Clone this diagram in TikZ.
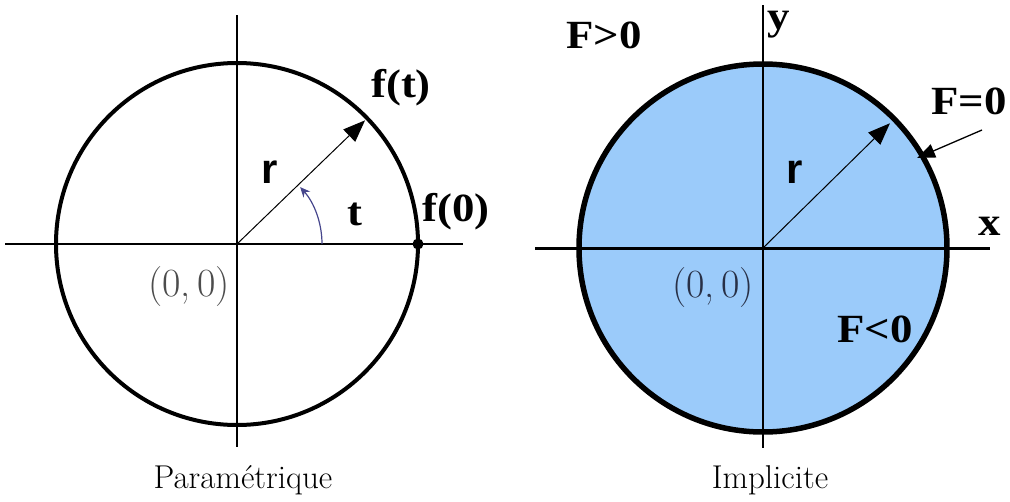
\documentclass[tikz,border=0pt]{standalone}
\usepackage{fontspec}
\usepackage{xcolor}
\usepackage{tikz}
\usetikzlibrary{arrows.meta,positioning}
\newfontfamily\lserif[FakeStretch=1.12]{Liberation Serif}
\newfontfamily\lsans{Liberation Sans}
\definecolor{diskblue}{RGB}{155,203,250}
\definecolor{anglecol}{RGB}{70,70,140}
\definecolor{origdark}{RGB}{40,48,70}

\begin{document}
\begin{tikzpicture}[x=1pt,y=-1pt,
  axis/.style={line width=1.3pt},
  rim/.style={line width=4pt},
  vec/.style={line width=1pt,-{Triangle[length=22pt,width=17pt]}},
  pointer/.style={line width=1.3pt,-{Triangle[length=18pt,width=14pt]}},
  anglearc/.style={line width=1.2pt,draw=anglecol,-{Stealth[length=10pt,width=9pt]}},
  lbl/.style={font=\fontsize{40}{42}\lserif\bfseries,inner sep=0pt},
  rlbl/.style={font=\fontsize{42}{44}\lsans\bfseries,inner sep=0pt},
  orig/.style={font=\fontsize{40}{44}\selectfont,text=black!70,inner sep=0pt},
  caption/.style={font=\fontsize{33}{36}\selectfont,inner sep=0pt}
]
\useasboundingbox (0,0) rectangle (1010,501);

% parametric circle
\coordinate (O1) at (237,244);
\coordinate (ax1l) at (5,244);
\coordinate (ax1r) at (463,244);
\coordinate (ax1t) at (237,15);
\coordinate (ax1b) at (237,447);
\draw[axis] (ax1l) -- (ax1r);
\draw[axis] (ax1t) -- (ax1b);
\draw[rim] (O1) circle[radius=181pt];
\coordinate (ft) at ([shift={(44:178pt)}]O1);
\draw[vec] (O1) -- (ft);
\draw[anglearc] ([shift={(0:85pt)}]O1) arc[start angle=0,end angle=42,radius=85pt];
\fill (418,244) circle[radius=5.5pt];
\node[lbl] (ftlabel) at (401,88) {f(t)};
\node[lbl] (f0label) at (456,212) {f(0)};
\node[rlbl] (r1) at (270,172) {r};
\node[lbl] (tlabel) at (355,214) {t};
\node[orig] (orig1) at (189,287) {(0,\,0)};
\node[caption] (cap1) at (243,480) {Paramétrique};

% implicit disk
\coordinate (O2) at (763,248);
\coordinate (ax2l) at (535,248);
\coordinate (ax2r) at (990,248);
\coordinate (ax2t) at (763,5);
\coordinate (ax2b) at (763,448);
\fill[diskblue] (O2) circle[radius=184pt];
\draw[line width=3pt] (ax2l) -- (ax2r);
\draw[axis] (ax2t) -- (ax2b);
\draw[rim,line width=5.5pt] (O2) circle[radius=184pt];
\coordinate (rt) at ([shift={(44.5:178pt)}]O2);
\draw[vec] (O2) -- (rt);
\node[rlbl] (r2) at (795,172) {r};
\node[lbl] (xlabel) at (990,226) {x};
\node[lbl] (ylabel) at (779,25) {y};
\node[lbl] (fpos) at (604,35) {F>0};
\node[lbl] (fzero) at (969,101) {F=0};
\node[lbl] (fneg) at (875,329) {F<0};
\coordinate (fztail) at (982,130);
\coordinate (fztip) at (917,158);
\draw[pointer] (fztail) -- (fztip);
\node[orig,text=origdark] (orig2) at (713,288) {(0,\,0)};
\node[caption] (cap2) at (770,480) {Implicite};
\end{tikzpicture}
\end{document}
